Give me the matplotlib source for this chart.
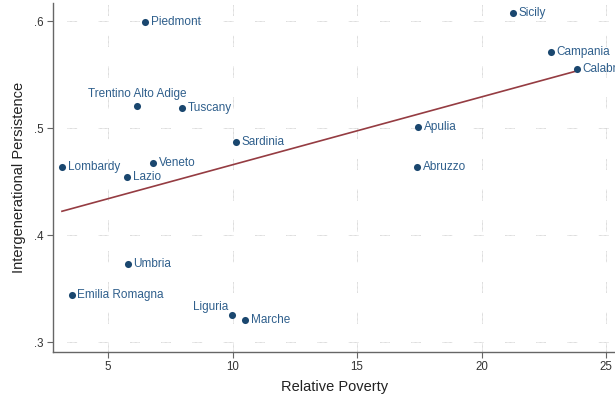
import numpy as np
import matplotlib
matplotlib.use("Agg")
import matplotlib.pyplot as plt

plt.rcParams["font.family"] = ["Liberation Sans", "DejaVu Sans"]

regions = ["Piedmont", "Trentino Alto Adige", "Tuscany", "Sardinia", "Lombardy",
           "Veneto", "Lazio", "Umbria", "Emilia Romagna", "Liguria", "Marche",
           "Sicily", "Campania", "Calabria", "Apulia", "Abruzzo"]
relative_poverty = [6.49, 6.16, 7.97, 10.14, 3.15, 6.81, 5.76, 5.80, 3.55, 9.98,
                    10.50, 21.27, 22.79, 23.84, 17.45, 17.41]
persistence = [0.599, 0.521, 0.519, 0.487, 0.464, 0.467, 0.454, 0.373, 0.344,
               0.325, 0.321, 0.608, 0.571, 0.555, 0.501, 0.464]
x_ticks = [5, 10, 15, 20, 25]
y_ticks = [0.3, 0.4, 0.5, 0.6]
y_tick_labels = [".3", ".4", ".5", ".6"]

# label placement (clock positions): 3 = right, 12 = above, 10 = upper left
label_pos = {"Trentino Alto Adige": 12, "Liguria": 10}

NAVY = "#1a476f"
LABEL = "#2f5f8c"
MAROON = "#953c42"

W, H = 615, 401
fig = plt.figure(figsize=(W / 100, H / 100), dpi=100)
ax = fig.add_axes([53 / W, (H - 352) / H, (617 - 53) / W, (352 - 3) / H])

ax.set_xlim(2.79, 25.44)
ax.set_ylim(0.2907, 0.617)

# grid: short runs of fine dots separated by long gaps
def dotted_run(run, gap, dot=0.75, space=0.55):
    n = int(run / (dot + space))
    seq = [dot, space] * n
    seq[-1] = gap
    return seq

h_seq = dotted_run(11.5, 22.3)
v_seq = dotted_run(12.5, 20.5)
h_style = (sum(h_seq) - 14.4, h_seq)   # begin inside the gap
v_style = (2.0, v_seq)                 # begin inside a run

grid_kw = dict(color="#d0d0d0", linewidth=0.7, zorder=0)
for yv in y_ticks:
    ax.axhline(yv, linestyle=h_style, **grid_kw)
for xv in x_ticks:
    ax.axvline(xv, linestyle=v_style, **grid_kw)

# linear fit
xs = np.array(relative_poverty)
ys = np.array(persistence)
slope, intercept = np.polyfit(xs, ys, 1)
xl = np.array([xs.min(), xs.max()])
ax.plot(xl, intercept + slope * xl, color=MAROON, linewidth=1.2, zorder=2)

ax.scatter(xs, ys, s=26, color=NAVY, zorder=3, linewidths=0)

for name, xv, yv in zip(regions, relative_poverty, persistence):
    pos = label_pos.get(name, 3)
    if pos == 12:
        off, ha, va = (0, 4), "center", "bottom"
    elif pos == 10:
        off, ha, va = (-3, 6), "right", "center"
    else:
        off, ha, va = (4, 0), "left", "center"
    ax.annotate(name, (xv, yv), xytext=off, textcoords="offset points",
                ha=ha, va=va, fontsize=8.5, color=LABEL, zorder=4,
                annotation_clip=False)

for s in ["top", "right"]:
    ax.spines[s].set_visible(False)
for s in ["left", "bottom"]:
    ax.spines[s].set_color("#666666")
    ax.spines[s].set_linewidth(1.0)

ax.set_xticks(x_ticks)
ax.set_yticks(y_ticks)
ax.set_yticklabels(y_tick_labels)
ax.tick_params(axis="both", direction="out", length=4.3, width=0.8,
               color="#666666", labelsize=8.3, labelcolor="#333333", pad=2.5)

ax.set_xlabel("Relative Poverty", fontsize=10.5, color="#222222", labelpad=5)
ax.set_ylabel("Intergenerational Persistence", fontsize=10.5, color="#222222",
              labelpad=6)

fig.savefig("out.png", dpi=100)
